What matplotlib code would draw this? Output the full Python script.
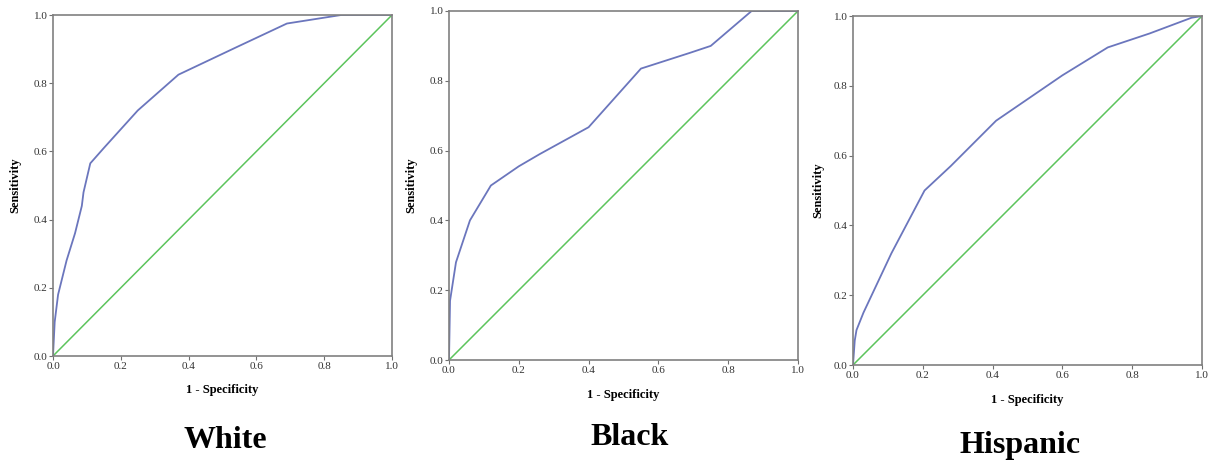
import matplotlib.pyplot as plt
import numpy as np

plt.rcParams['font.family'] = ['Liberation Serif', 'DejaVu Serif']

groups = ["White", "Black", "Hispanic"]

white_fpr = [0.0, 0.005, 0.015, 0.04, 0.065, 0.085, 0.09, 0.11, 0.15, 0.25, 0.37, 0.54, 0.69, 0.85, 1.0]
white_tpr = [0.0, 0.10, 0.18, 0.28, 0.36, 0.44, 0.48, 0.565, 0.61, 0.72, 0.825, 0.905, 0.975, 1.0, 1.0]

black_fpr = [0.0, 0.003, 0.02, 0.06, 0.12, 0.2, 0.26, 0.4, 0.55, 0.69, 0.75, 0.867, 1.0]
black_tpr = [0.0, 0.17, 0.28, 0.40, 0.50, 0.555, 0.59, 0.667, 0.835, 0.88, 0.90, 1.0, 1.0]

hisp_fpr = [0.0, 0.005, 0.01, 0.03, 0.11, 0.205, 0.28, 0.41, 0.6, 0.73, 0.85, 0.97, 1.0]
hisp_tpr = [0.0, 0.07, 0.10, 0.15, 0.32, 0.50, 0.57, 0.70, 0.83, 0.91, 0.95, 0.995, 1.0]

curves = [(white_fpr, white_tpr), (black_fpr, black_tpr), (hisp_fpr, hisp_tpr)]
ref_line = [0.0, 1.0]

ticks = [0.0, 0.2, 0.4, 0.6, 0.8, 1.0]

W, H = 1214, 465
fig = plt.figure(figsize=(W / 100, H / 100), dpi=100)

# axes boxes in pixels: left, right, top, bottom
boxes = [(53, 392, 15, 356), (449, 798, 11, 360), (853, 1202, 16, 365)]
ylab_x = [15, 411, 818]
xlab_y = [390, 395, 400]
title_pos = [(225, 440), (630, 437), (1020, 445)]

for i, (name, (fx, ty)) in enumerate(zip(groups, curves)):
    l, r, t, b = boxes[i]
    ax = fig.add_axes([l / W, (H - b) / H, (r - l) / W, (b - t) / H])
    ax.plot(ref_line, ref_line, color="#5cc45c", lw=1.1)
    ax.plot(fx, ty, color="#6b76bd", lw=1.3)
    ax.set_xlim(0, 1)
    ax.set_ylim(0, 1)
    ax.set_xticks(ticks)
    ax.set_yticks(ticks)
    ax.set_xticklabels([f"{v:.1f}" for v in ticks])
    ax.set_yticklabels([f"{v:.1f}" for v in ticks])
    ax.tick_params(length=3, width=0.8, color="#707070", labelsize=8,
                   labelcolor="#333333", pad=1)
    for s in ax.spines.values():
        s.set_color("#808080")
        s.set_linewidth(1.2)
    fig.text((l + r) / 2 / W, 1 - xlab_y[i] / H, "1 - Specificity",
             ha="center", va="center", fontsize=9, fontweight="bold")
    fig.text(ylab_x[i] / W, 1 - (t + b) / 2 / H, "Sensitivity", rotation=90,
             ha="center", va="center", fontsize=9, fontweight="bold")
    tx, tyy = title_pos[i]
    fig.text(tx / W, 1 - tyy / H, name, ha="center", va="center",
             fontsize=23, fontweight="bold")

fig.savefig("out.png", dpi=100)
